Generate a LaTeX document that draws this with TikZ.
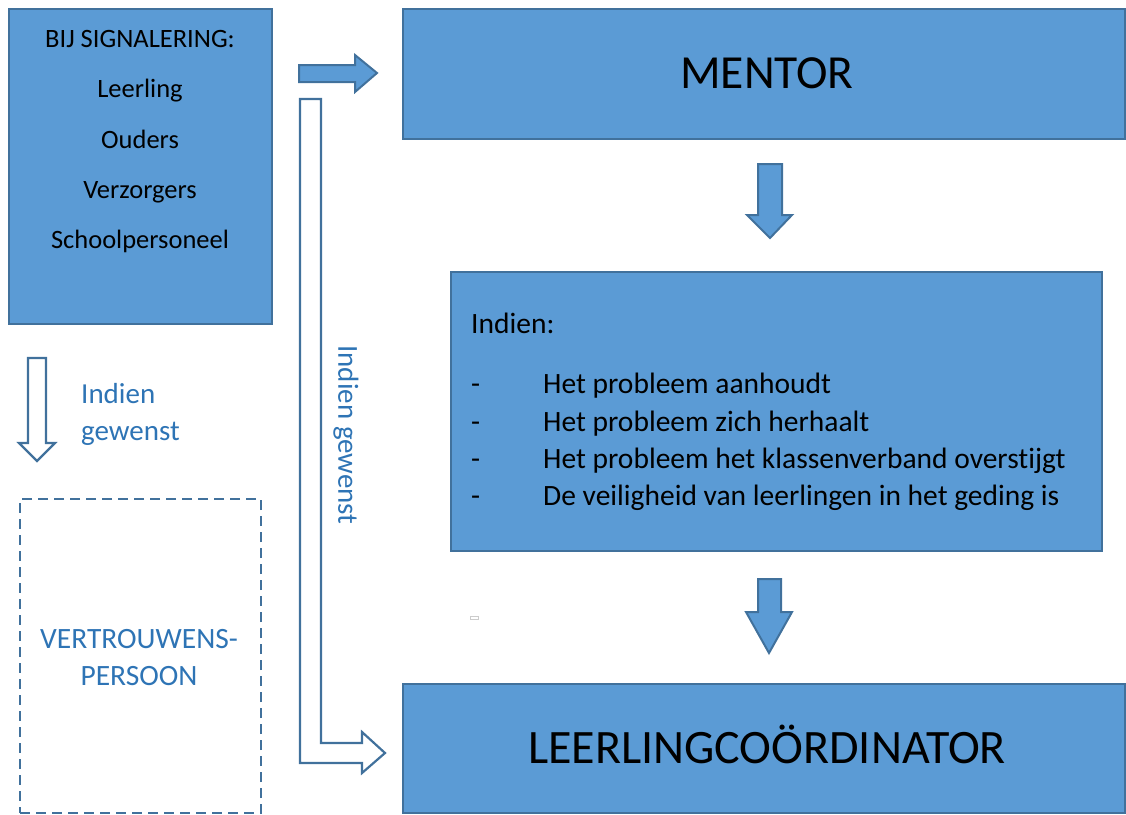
\documentclass[tikz,border=0pt]{standalone}
\usepackage{fontspec}
\setmainfont{Carlito}[Ligatures=NoCommon]
\definecolor{boxfill}{HTML}{5B9BD5}
\definecolor{boxline}{HTML}{41719C}
\definecolor{bluetext}{HTML}{2E74B5}
\tikzset{
  box/.style={draw=boxline, fill=boxfill, line width=2pt, anchor=north west, inner sep=0pt},
  blockarrow/.style={draw=boxline, fill=boxfill, line width=2pt, line join=miter},
  hollowarrow/.style={draw=boxline, fill=white, line width=2.2pt, line join=miter},
  txt/.style={anchor=base, inner sep=0pt, text=black},
  btxt/.style={anchor=base west, inner sep=0pt, text=bluetext, font=\fontsize{29}{29}\selectfont},
}
\begin{document}
\begin{tikzpicture}[x=1pt,y=-1pt]
\useasboundingbox (0,0) rectangle (1126,814);
% boxes
\node[box, minimum width=263pt, minimum height=315pt] (sig) at (8,8) {};
\node[box, minimum width=722pt, minimum height=130pt] (mentor) at (402,8) {};
\node[box, minimum width=651pt, minimum height=279pt] (indien) at (450,271) {};
\node[box, minimum width=722pt, minimum height=129pt] (llc) at (402,683) {};
\node[draw=boxline, line width=2.4pt, dash pattern=on 10pt off 6pt, anchor=north west, minimum width=241pt, minimum height=314pt, inner sep=0pt] (vp) at (19,498) {};
% texts in signalering box
\begin{scope}[every node/.style={txt, font=\fontsize{26.5}{26.5}\selectfont}]
\node (t1) at (140,47) {BIJ SIGNALERING:};
\node (t2) at (140,97) {Leerling};
\node (t3) at (140,148) {Ouders};
\node (t4) at (140,198) {Verzorgers};
\node (t5) at (140,248) {Schoolpersoneel};
\end{scope}
\node[txt, font=\fontsize{47.5}{47.5}\selectfont] (mt) at (767,88) {MENTOR};
\node[txt, font=\fontsize{48}{48}\selectfont] (lt) at (767,763) {LEERLINGCOÖRDINATOR};
% indien box text
\begin{scope}[every node/.style={txt, anchor=base west, font=\fontsize{29.5}{29.5}\selectfont}]
\node (i0) at (471,333) {Indien:};
\node (d1) at (471,393) {-};
\node (d2) at (471,431) {-};
\node (d3) at (471,468) {-};
\node (d4) at (471,505) {-};
\node (l1) at (543,393) {Het probleem aanhoudt};
\node (l2) at (543,431) {Het probleem zich herhaalt};
\node (l3) at (543,468) {Het probleem het klassenverband overstijgt};
\node (l4) at (543,505) {De veiligheid van leerlingen in het geding is};
\end{scope}
% blue texts
\node[btxt] (ig1) at (81,403) {Indien};
\node[btxt] (ig2) at (81,440) {gewenst};
\node[txt, anchor=base, text=bluetext, font=\fontsize{29.5}{29.5}\selectfont] (vp1) at (139,648) {VERTROUWENS-};
\node[txt, anchor=base, text=bluetext, font=\fontsize{29.5}{29.5}\selectfont] (vp2) at (139,685) {PERSOON};
\node[anchor=center, inner sep=0pt, text=bluetext, rotate=-90, font=\fontsize{29}{29}\selectfont] (vig) at (346,435) {Indien gewenst};
% block arrows
\draw[blockarrow] (299,65) -- (355,65) -- (355,55) -- (377,73) -- (355,92) -- (355,82) -- (299,82) -- cycle;
\draw[blockarrow] (758,164) -- (782,164) -- (782,215) -- (792,215) -- (770,238) -- (747,215) -- (758,215) -- cycle;
\draw[blockarrow] (758,579) -- (781,579) -- (781,612) -- (792,612) -- (769,653) -- (746,612) -- (758,612) -- cycle;
% hollow arrows
\draw[hollowarrow] (28,358) -- (46,358) -- (46,443) -- (55,443) -- (37,461) -- (19,443) -- (28,443) -- cycle;
\draw[hollowarrow] (300,99) -- (321,99) -- (321,743) -- (362,743) -- (362,732) -- (385,753) -- (362,773) -- (362,763) -- (300,763) -- cycle;
% tiny artifact
\draw[gray!40, line width=0.8pt] (470,616) rectangle (478,619);
\end{tikzpicture}
\end{document}
